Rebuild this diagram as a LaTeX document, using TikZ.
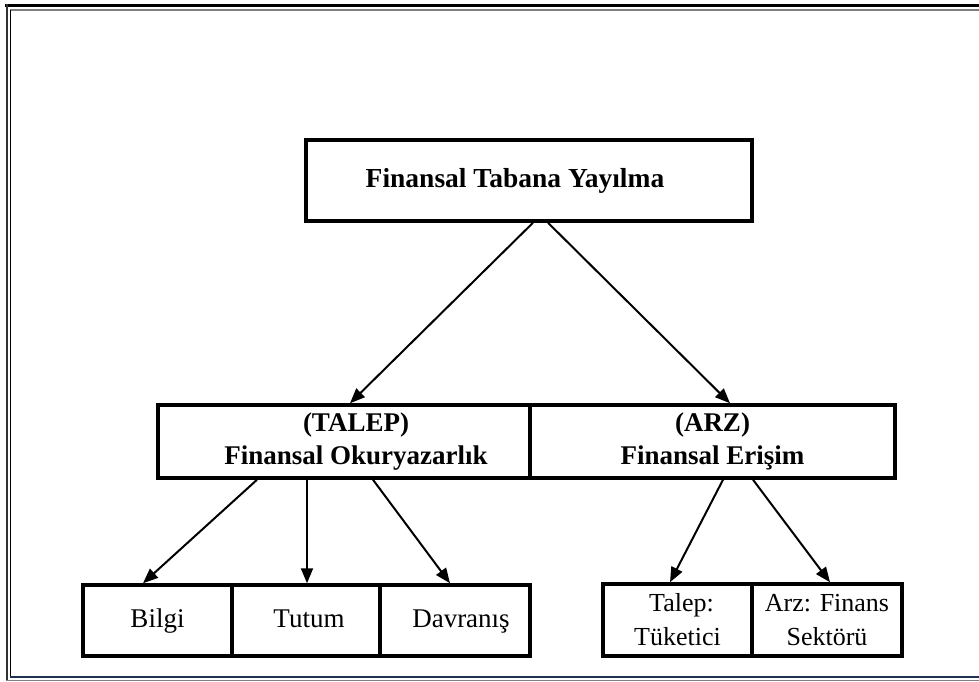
\documentclass[tikz,border=0pt]{standalone}
\usepackage{fontspec}
\setmainfont{Liberation Serif}
\usepackage{xcolor}
\usetikzlibrary{arrows.meta}
\definecolor{framenavy}{RGB}{30,50,80}

\begin{document}
\begin{tikzpicture}[x=1pt, y=-1pt,
        cell/.style={draw, rectangle, line width=3.5pt, inner sep=0pt, align=center},
        word/.style={text height=19pt, text depth=6pt, font=\fontsize{27}{32}\selectfont},
        arr/.style={-{Triangle[length=15pt, width=12pt]}, line width=2pt}]
        \useasboundingbox (0,0) rectangle (979,682);
        \fill[white] (0,0) rectangle (979,682);

        % Frame
        \draw[line width=3.5pt] (5,5.5) -- (979,5.5);
        \draw[gray, line width=1.5pt] (10,10) -- (979,10);
        \draw[black!80, line width=2pt] (7,4) -- (7,681);
        \draw[line width=1.5pt] (10.5,10) -- (10.5,677);
        \draw[framenavy, line width=1.5pt] (10,677) -- (979,677);
        \draw[gray, line width=1pt] (6,680.5) -- (979,680.5);

        % Top box
        \node[cell, minimum width=446pt, minimum height=81pt, font=\fontsize{27.5}{32}\selectfont\bfseries] (yayilma) at (529,180.5) {Finansal Tabana Yayılma\hspace*{28pt}};

        % Middle boxes
        \node[cell, minimum width=372pt, minimum height=73pt, font=\fontsize{27}{33}\selectfont\bfseries] (talep) at (344,441.5) {\hspace*{24pt}(TALEP)\\ \hspace*{24pt}Finansal Okuryazarlık};
        \node[cell, minimum width=365pt, minimum height=73pt, font=\fontsize{27}{33}\selectfont\bfseries] (arz) at (712.5,441.5) {(ARZ)\\ Finansal Erişim};

        % Bottom boxes (TALEP)
        \node[cell, word, minimum width=149pt, minimum height=71pt] (bilgi) at (157.5,620.5) {Bilgi};
        \node[cell, word, minimum width=148pt, minimum height=71pt] (tutum) at (306,620.5) {\hspace*{6pt}Tutum};
        \node[cell, word, minimum width=150pt, minimum height=71pt] (davranis) at (455,620.5) {\hspace*{12pt}Davranış};

        % Bottom boxes (ARZ)
        \node[cell, minimum width=149pt, minimum height=72pt, font=\fontsize{26}{34}\selectfont] (tuketici) at (677.5,620) {\hspace*{8pt}Talep:\\ Tüketici};
        \node[cell, minimum width=150pt, minimum height=72pt, font=\fontsize{26}{34}\selectfont] (sektor) at (827,620) {Arz: Finans\\ Sektörü};

        % Connections
        \draw[arr] ([xshift=4pt]yayilma.south) -- ([xshift=6pt]talep.north);
        \draw[arr] ([xshift=19pt]yayilma.south) -- ([xshift=17.5pt]arz.north);
        \draw[arr] ([xshift=-87pt]talep.south) -- ([xshift=-14.5pt]bilgi.north);
        \draw[arr] ([xshift=-37pt]talep.south) -- ([xshift=1pt]tutum.north);
        \draw[arr] ([xshift=29pt]talep.south) -- ([xshift=-5pt]davranis.north);
        \draw[arr] ([xshift=10.5pt]arz.south) -- ([xshift=-7.5pt]tuketici.north);
        \draw[arr] ([xshift=40.5pt]arz.south) -- ([xshift=3pt]sektor.north);
    \end{tikzpicture}
\end{document}
